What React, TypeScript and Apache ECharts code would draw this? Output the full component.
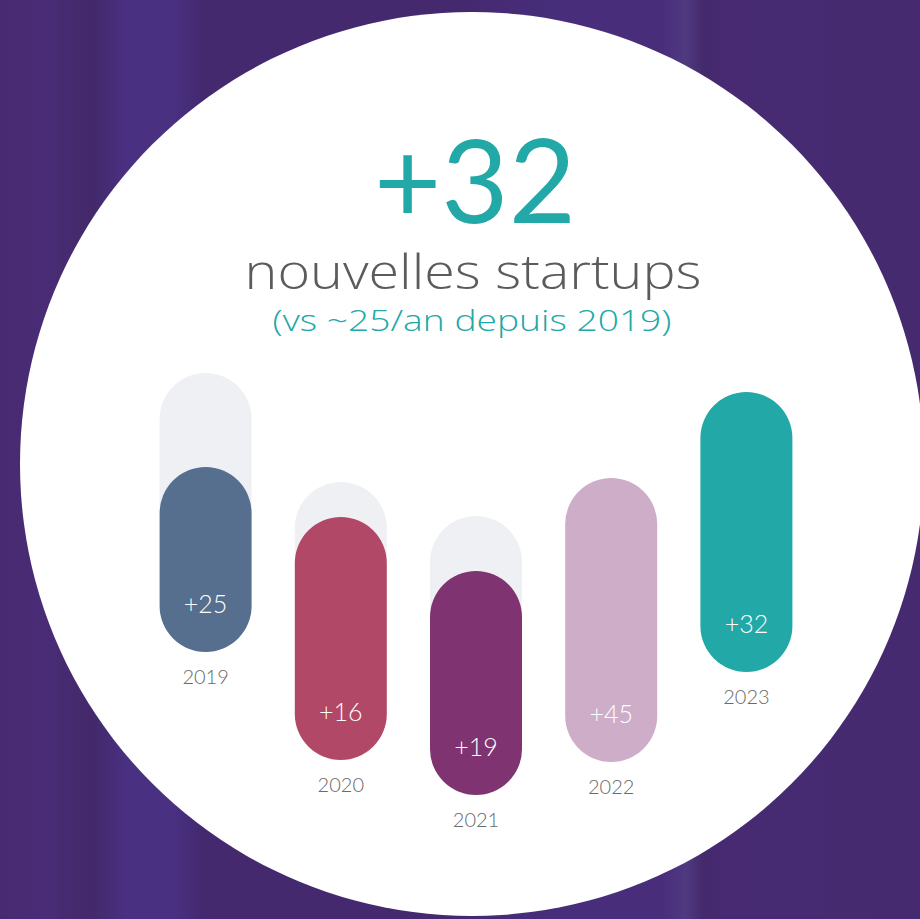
import React, { useEffect, useRef } from "react";
import * as echarts from "echarts";

const years = ["2019", "2020", "2021", "2022", "2023"];
const newStartups = [25, 16, 19, 45, 32];
// pill extents on the hidden value axis (0–100)
const pillTop = [78.6, 68.6, 57.8, 76.4, 93.6];
const pillBottom = [41.6, 20, 13, 19.6, 37.6];
// light "ghost" pills behind the first three years
const ghostTop = [97.4, 75.6, 68.8];

const pillColors = ["#566f8f", "#b24867", "#7f3370", "#cdadc8", "#21a8a7"];
const FONT = "Lato";
const TFONT = "'Open Sans'";

export default function App() {
  const ref = useRef<HTMLDivElement>(null);
  useEffect(() => {
    document.body.style.margin = "0";
    const chart = echarts.init(ref.current!, null, { renderer: "svg" });
    const pillData = years.map((y, i) => [i, pillTop[i], pillBottom[i], newStartups[i]]);
    const ghostData = ghostTop.map((t, i) => [i, t, pillTop[i] - 8]);
    const W = 92;
    chart.setOption({
      animation: false,
      backgroundColor: {
        type: "linear",
        x: 0, y: 0, x2: 1, y2: 0,
        colorStops: [
          { offset: 0, color: "#472a70" },
          { offset: 0.05, color: "#492c76" },
          { offset: 0.1, color: "#43296a" },
          { offset: 0.14, color: "#4a3082" },
          { offset: 0.19, color: "#493080" },
          { offset: 0.22, color: "#44296f" },
          { offset: 0.5, color: "#45296f" },
          { offset: 0.6, color: "#472e7a" },
          { offset: 0.72, color: "#492d7b" },
          { offset: 0.745, color: "#4f3a80" },
          { offset: 0.765, color: "#44296c" },
          { offset: 0.79, color: "#472a72" },
          { offset: 1, color: "#462a70" },
        ],
      },
      graphic: [
        { type: "circle", z: -10, shape: { cx: 472, cy: 464, r: 452 }, style: { fill: "#ffffff" } },
        {
          type: "text", x: 475, y: 178,
          style: { text: "+32", fill: "#21a8a7", font: `400 116px ${FONT}`, textAlign: "center", textVerticalAlign: "middle" },
        },
        {
          type: "text", x: 473, y: 270, scaleX: 1.16,
          style: { text: "nouvelles startups", fill: "#5b5b5b", font: `300 48px ${TFONT}`, textAlign: "center", textVerticalAlign: "middle" },
        },
        {
          type: "text", x: 472, y: 319, scaleX: 1.24,
          style: { text: "(vs ~25/an depuis 2019)", fill: "#21a8a7", font: `300 30px ${TFONT}`, textAlign: "center", textVerticalAlign: "middle" },
        },
      ],
      grid: { left: 138, width: 676, top: 360, height: 500 },
      xAxis: { type: "category", data: years, show: false },
      yAxis: { type: "value", min: 0, max: 100, show: false },
      series: [
        {
          type: "custom",
          name: "ghost",
          data: ghostData,
          encode: { x: 0, y: [1, 2] },
          renderItem: (params: any, api: any) => {
            const t = api.coord([api.value(0), api.value(1)]);
            const b = api.coord([api.value(0), api.value(2)]);
            return {
              type: "rect",
              shape: { x: t[0] - W / 2, y: t[1], width: W, height: b[1] - t[1], r: [W / 2, W / 2, 0, 0] },
              style: { fill: "#eff0f4" },
            };
          },
        },
        {
          type: "custom",
          name: "nouvelles startups",
          data: pillData,
          encode: { x: 0, y: [1, 2] },
          renderItem: (params: any, api: any) => {
            const i = params.dataIndex;
            const t = api.coord([api.value(0), api.value(1)]);
            const b = api.coord([api.value(0), api.value(2)]);
            return {
              type: "group",
              children: [
                {
                  type: "rect",
                  shape: { x: t[0] - W / 2, y: t[1], width: W, height: b[1] - t[1], r: W / 2 },
                  style: { fill: pillColors[i] },
                },
                {
                  type: "text",
                  x: b[0], y: b[1] - 49,
                  style: {
                    text: "+" + api.value(3), fill: "#ffffff", font: `300 25px ${FONT}`,
                    textAlign: "center", textVerticalAlign: "middle",
                  },
                },
                {
                  type: "text",
                  x: b[0], y: b[1] + 24,
                  style: {
                    text: years[i], fill: "#6a6a6a", font: `300 20px ${FONT}`,
                    textAlign: "center", textVerticalAlign: "middle",
                  },
                },
              ],
            };
          },
        },
      ],
    });
    return () => chart.dispose();
  }, []);
  return <div ref={ref} style={{ width: 920, height: 919 }} />;
}
